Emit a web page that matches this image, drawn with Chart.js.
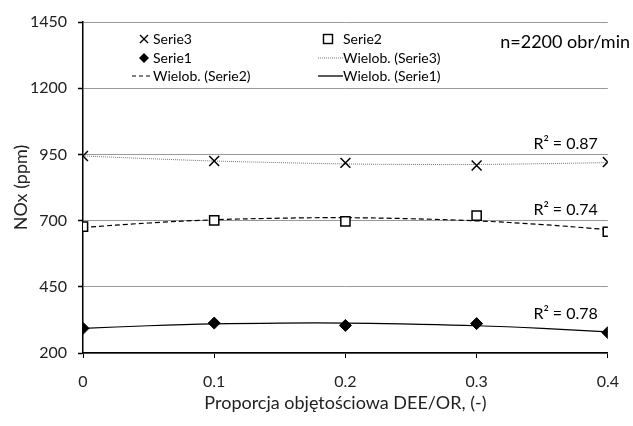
<!DOCTYPE html>
<html>
<head>
<meta charset="utf-8">
<script src="https://cdn.jsdelivr.net/npm/chart.js@4"></script>
<style>
  body { margin: 0; background: #fff; }
  #wrap { width: 633px; height: 426px; }
</style>
</head>
<body>
<div id="wrap"><canvas id="chart"></canvas></div>
<script>
// Dane
const xValues = [0, 0.1, 0.2, 0.3, 0.4];
const serie3 = [944, 925, 918, 908, 921];
const serie2 = [677, 701, 697, 719, 658];
const serie1 = [293, 313, 304, 311, 277];

// Linie trendu (wielomian 2 st.) odczytane co 0.05
const trendX = [0, 0.05, 0.1, 0.15, 0.2, 0.25, 0.3, 0.35, 0.4];
const trend3 = [944, 934, 925, 919, 914, 912, 912, 915, 919];
const trend2 = [674, 691, 703, 709, 711, 707, 699, 685, 666];
const trend1 = [293, 303, 310, 313, 313, 309, 303, 293, 280];

const yTicks = [200, 450, 700, 950, 1200, 1450];
const r2Labels = ["R² = 0.87", "R² = 0.74", "R² = 0.78"];
const r2Values = [990, 740, 347]; // wysokość etykiet R² w jednostkach osi Y

const FONT = "Lato, 'Open Sans', sans-serif";

function toPoints(xs, ys) {
  return xs.map((x, i) => ({ x: x, y: ys[i] }));
}

// Legenda i opisy rysowane na płótnie
const extraText = {
  id: "extraText",
  afterDraw(chart) {
    const ctx = chart.ctx;
    const area = chart.chartArea;
    const yScale = chart.scales.y;
    ctx.save();
    ctx.fillStyle = "#000";
    ctx.strokeStyle = "#000";

    // R²
    ctx.font = "16px " + FONT;
    ctx.textAlign = "right";
    ctx.textBaseline = "middle";
    r2Labels.forEach((t, i) => {
      ctx.fillText(t, area.right - 10, yScale.getPixelForValue(r2Values[i]));
    });

    // n=2200 obr/min
    ctx.font = "18px " + FONT;
    ctx.fillText("n=2200 obr/min", 630, 42);

    // legenda
    ctx.font = "14px " + FONT;
    ctx.textAlign = "left";
    const c1 = area.left + 61, c2 = area.left + 245;
    const rows = [area.top + 17, area.top + 36, area.top + 54];

    // x Serie3
    ctx.lineWidth = 1.4;
    ctx.beginPath();
    ctx.moveTo(c1 - 4, rows[0] - 4); ctx.lineTo(c1 + 4, rows[0] + 4);
    ctx.moveTo(c1 + 4, rows[0] - 4); ctx.lineTo(c1 - 4, rows[0] + 4);
    ctx.stroke();
    ctx.fillText("Serie3", c1 + 9, rows[0]);

    // diament Serie1
    ctx.beginPath();
    ctx.moveTo(c1, rows[1] - 5); ctx.lineTo(c1 + 5, rows[1]);
    ctx.lineTo(c1, rows[1] + 5); ctx.lineTo(c1 - 5, rows[1]);
    ctx.closePath(); ctx.fill();
    ctx.fillText("Serie1", c1 + 9, rows[1]);

    // przerywana Serie2
    ctx.lineWidth = 1.2;
    ctx.setLineDash([4, 3]);
    ctx.beginPath();
    ctx.moveTo(c1 - 12, rows[2]); ctx.lineTo(c1 + 9, rows[2]);
    ctx.stroke();
    ctx.setLineDash([]);
    ctx.fillText("Wielob. (Serie2)", c1 + 9, rows[2]);

    // kwadrat Serie2
    ctx.lineWidth = 1.4;
    ctx.strokeRect(c2 - 4.5, rows[0] - 4.5, 9, 9);
    ctx.fillText("Serie2", c2 + 15, rows[0]);

    // kropkowana Serie3
    ctx.strokeStyle = "#777";
    ctx.lineWidth = 1;
    ctx.setLineDash([1, 1]);
    ctx.beginPath();
    ctx.moveTo(c2 - 10, rows[1]); ctx.lineTo(c2 + 15, rows[1]);
    ctx.stroke();
    ctx.setLineDash([]);
    ctx.fillText("Wielob. (Serie3)", c2 + 15, rows[1]);

    // ciągła Serie1
    ctx.strokeStyle = "#000";
    ctx.lineWidth = 1.3;
    ctx.beginPath();
    ctx.moveTo(c2 - 10, rows[2]); ctx.lineTo(c2 + 15, rows[2]);
    ctx.stroke();
    ctx.fillText("Wielob. (Serie1)", c2 + 15, rows[2]);

    ctx.restore();
  }
};

const chart = new Chart(document.getElementById("chart"), {
  type: "scatter",
  data: {
    datasets: [
      {
        label: "Serie3",
        data: toPoints(xValues, serie3),
        pointStyle: "crossRot",
        pointRadius: 7,
        borderColor: "#000",
        borderWidth: 1.5,
      },
      {
        label: "Serie2",
        data: toPoints(xValues, serie2),
        pointStyle: "rect",
        pointRadius: 6.5,
        backgroundColor: "#fff",
        borderColor: "#000",
        borderWidth: 1.5,
      },
      {
        label: "Serie1",
        data: toPoints(xValues, serie1),
        pointStyle: "rectRot",
        pointRadius: 6,
        backgroundColor: "#000",
        borderColor: "#000",
        borderWidth: 1,
      },
      {
        label: "Wielob. (Serie3)",
        data: toPoints(trendX, trend3),
        showLine: true,
        pointRadius: 0,
        borderColor: "#777",
        borderWidth: 1,
        borderDash: [1, 1],
        tension: 0.4,
      },
      {
        label: "Wielob. (Serie2)",
        data: toPoints(trendX, trend2),
        showLine: true,
        pointRadius: 0,
        borderColor: "#000",
        borderWidth: 1.2,
        borderDash: [5, 3],
        tension: 0.4,
      },
      {
        label: "Wielob. (Serie1)",
        data: toPoints(trendX, trend1),
        showLine: true,
        pointRadius: 0,
        borderColor: "#000",
        borderWidth: 1.2,
        tension: 0.4,
      },
    ],
  },
  options: {
    responsive: true,
    maintainAspectRatio: false,
    animation: false,
    layout: { padding: { top: 22, right: 23, left: 0, bottom: 0 } },
    plugins: {
      legend: { display: false },
      tooltip: { enabled: false },
    },
    scales: {
      x: {
        type: "linear",
        min: 0,
        max: 0.4,
        afterFit: (scale) => { scale.height = 73; },
        afterBuildTicks: (scale) => { scale.ticks = xValues.map((v) => ({ value: v })); },
        ticks: {
          color: "#222",
          font: { family: FONT, size: 16 },
          padding: 14,
          maxRotation: 0,
          callback: (v) => String(v),
        },
        grid: {
          drawOnChartArea: false,
          drawTicks: true,
          tickLength: 5,
          tickColor: "#000",
        },
        border: { color: "#000", width: 1.5 },
        title: {
          display: true,
          text: "Proporcja objętościowa DEE/OR, (-)",
          color: "#222",
          font: { family: FONT, size: 18 },
          padding: { top: 0, bottom: 12 },
        },
      },
      y: {
        min: 200,
        max: 1450,
        afterFit: (scale) => { scale.width = 83; },
        afterBuildTicks: (scale) => { scale.ticks = yTicks.map((v) => ({ value: v })); },
        ticks: {
          color: "#222",
          font: { family: FONT, size: 16 },
          padding: 11,
          callback: (v) => String(v),
        },
        grid: {
          color: "#999",
          lineWidth: 1,
          borderDash: [2, 2],
          drawTicks: true,
          tickLength: 5,
          tickColor: "#000",
          tickBorderDash: [],
          tickWidth: 1.5,
        },
        border: { color: "#000", width: 1.5 },
        title: {
          display: true,
          text: "NOx (ppm)",
          color: "#222",
          font: { family: FONT, size: 18 },
          padding: { top: 10, bottom: 0 },
        },
      },
    },
  },
  plugins: [extraText],
});
</script>
</body>
</html>
